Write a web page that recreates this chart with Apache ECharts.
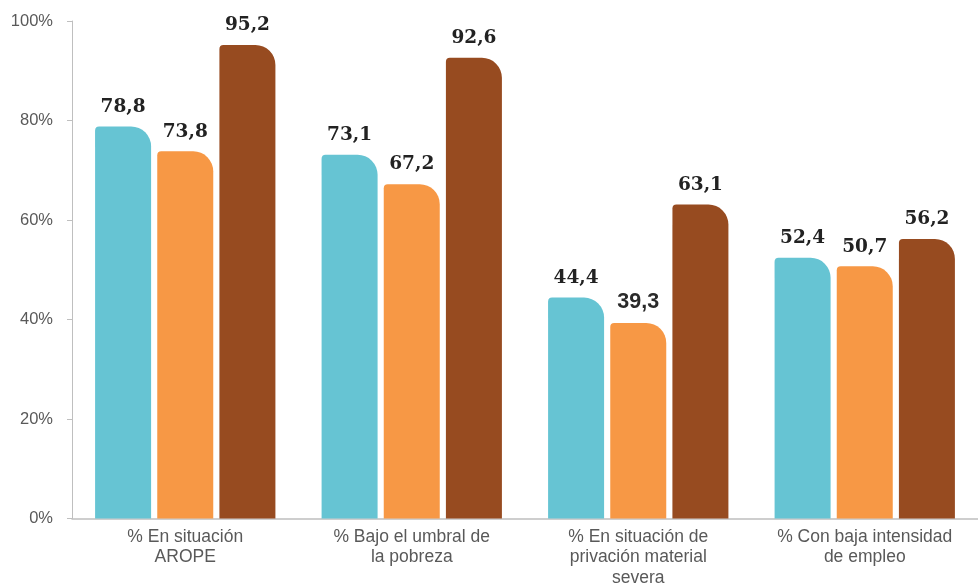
<!DOCTYPE html>
<html>
<head>
<meta charset="utf-8">
<script src="https://cdn.jsdelivr.net/npm/echarts@6/dist/echarts.min.js"></script>
<style>
html,body{margin:0;padding:0;background:#fff;}
#chart{width:978px;height:588px;}
</style>
</head>
<body>
<div id="chart"></div>
<script>
const categories = [
  "% En situación\nAROPE",
  "% Bajo el umbral de\nla pobreza",
  "% En situación de\nprivación material\nsevera",
  "% Con baja intensidad\nde empleo"
];
const seriesNames = ["Serie 1", "Serie 2", "Serie 3"];
const serie1 = [78.8, 73.1, 44.4, 52.4];
const serie2 = [73.8, 67.2, 39.3, 50.7];
const serie3 = [95.2, 92.6, 63.1, 56.2];
const yTicks = [0, 20, 40, 60, 80, 100];
const colors = ["#66C4D3", "#F79845", "#974B20"];

const chart = echarts.init(document.getElementById('chart'), null, {renderer: 'canvas'});
function mkSeries(name, data, color, sansIndex) {
  return {
    name: name,
    type: 'bar',
    data: data.map((v, i) => i === sansIndex
      ? { value: v, label: { fontFamily: 'Liberation Sans', fontWeight: 'bold', fontSize: 21.5, color: '#2a2a2a' } }
      : v),
    barWidth: 56,
    barGap: '11%',
    itemStyle: { color: color, borderRadius: [4, 20, 0, 0] },
    label: {
      show: true,
      position: 'top',
      distance: 10,
      fontFamily: 'DejaVu Serif',
      fontWeight: 'bold',
      fontSize: 18.5,
      color: '#222222',
      formatter: p => p.value.toFixed(1).replace('.', ',')
    }
  };
}
chart.setOption({
  animation: false,
  grid: { left: 72, top: 21, width: 915, bottom: 68, containLabel: false },
  xAxis: {
    type: 'category',
    data: categories,
    axisLine: { show: true, lineStyle: { color: '#BFBFBF', width: 1.5 } },
    axisTick: { show: false },
    axisLabel: {
      interval: 0,
      margin: 8,
      fontFamily: 'Liberation Sans',
      fontSize: 17.5,
      lineHeight: 20.5,
      color: '#595959'
    }
  },
  yAxis: {
    type: 'value',
    min: yTicks[0],
    max: yTicks[yTicks.length - 1],
    interval: 20,
    axisLine: { show: true, lineStyle: { color: '#BFBFBF', width: 1 } },
    axisTick: { show: true, length: 5, lineStyle: { color: '#BFBFBF' } },
    splitLine: { show: false },
    axisLabel: {
      margin: 19,
      fontFamily: 'Liberation Sans',
      fontSize: 16.5,
      color: '#595959',
      formatter: v => v + '%'
    }
  },
  series: [
    mkSeries(seriesNames[0], serie1, colors[0], -1),
    mkSeries(seriesNames[1], serie2, colors[1], 2),
    mkSeries(seriesNames[2], serie3, colors[2], -1)
  ]
});
</script>
</body>
</html>
